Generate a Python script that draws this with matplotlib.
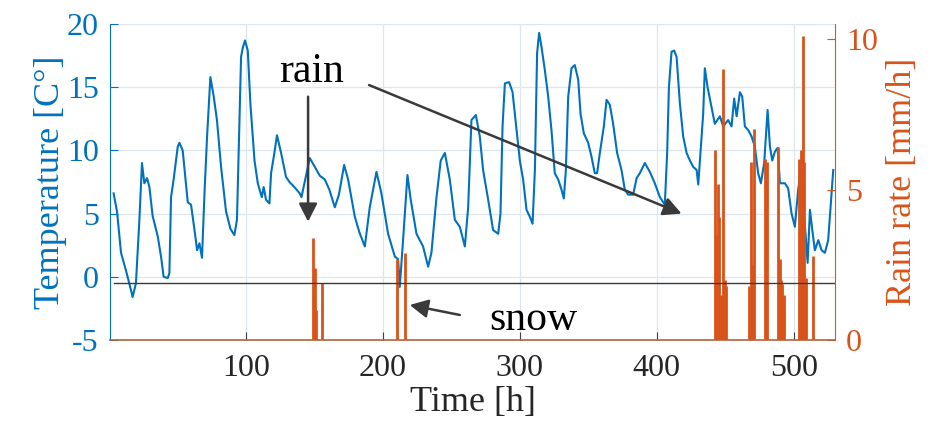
import matplotlib
matplotlib.use("Agg")
import matplotlib.pyplot as plt

plt.rcParams["font.family"] = ["Liberation Serif", "DejaVu Serif"]
plt.rcParams["axes.unicode_minus"] = False

BLUE = "#0072BD"
ORANGE = "#D95319"
DARK = "#3a3a3a"

# temperature (hour, °C)
temp_hours = [3.6, 6.1, 9.0, 12.6, 14.4, 17.5, 19.9, 22.4, 24.3, 26.0, 28.0, 29.7, 32.1,
              35.8, 38.2, 40.1, 43.1, 44.3, 45.5, 47.4, 50.4, 51.6, 54.0, 57.7, 60.1, 63.0,
              64.5, 66.2, 68.1, 69.9, 71.8, 74.2, 76.6, 79.0, 82.0, 85.6, 88.8, 91.7, 93.6,
              95.4, 96.6, 97.8, 99.5, 101.5, 103.4, 106.4, 108.8, 111.7, 113.1, 114.8, 117.3,
              118.5, 120.9, 122.8, 125.8, 129.4, 131.9, 135.5, 139.4, 140.7, 146.7, 150.4,
              154.0, 157.7, 161.0, 165.0, 168.0, 171.8, 174.7, 179.6, 183.0, 186.9, 190.5,
              195.4, 199.0, 203.9, 208.8, 211.2, 212.4, 214.8, 218.0, 220.4, 224.6, 229.4,
              233.1, 235.5, 239.2, 242.3, 245.3, 248.9, 252.6, 256.2, 259.9, 262.3, 264.7,
              267.9, 270.8, 273.2, 276.9, 280.5, 284.2, 285.9, 287.4, 289.1, 292.2, 294.7,
              297.6, 300.0, 302.4, 304.9, 307.3, 309.3, 311.0, 312.6, 314.1, 315.8, 318.2,
              320.7, 323.1, 325.5, 328.0, 330.4, 332.1, 333.6, 335.3, 337.7, 340.1, 342.6,
              344.3, 346.7, 349.9, 352.3, 354.7, 356.4, 358.4, 361.3, 363.3, 365.7, 368.1,
              371.0, 374.2, 376.6, 379.0, 382.7, 385.2, 387.6, 391.2, 394.9, 398.5, 402.2,
              405.8, 407.5, 408.8, 410.7, 412.6, 414.4, 416.8, 419.2, 421.7, 424.1, 426.5,
              429.0, 430.2, 432.1, 433.8, 435.0, 437.0, 439.4, 442.3, 446.0, 448.4, 452.0,
              454.5, 456.4, 458.2, 460.6, 462.3, 464.2, 466.7, 469.1, 471.5, 473.9, 475.9,
              478.3, 480.8, 482.5, 484.2, 486.1, 488.1, 489.8, 493.4, 495.8, 498.3, 500.7,
              503.1, 505.1, 506.8, 508.5, 510.0, 511.7, 513.4, 515.3, 517.8, 520.2, 522.6,
              525.0, 527.5, 528.7]
temp_vals = [6.6, 5.15, 1.9, 0.5, -0.25, -1.6, -0.5, 4.5, 9.0, 7.4, 7.8, 7.1, 4.8,
             3.2, 1.6, 0.0, -0.1, 0.3, 6.3, 7.7, 10.3, 10.6, 10.0, 5.9, 5.7, 3.4,
             2.1, 2.65, 1.5, 6.6, 11.1, 15.8, 14.3, 12.4, 8.7, 5.2, 3.8, 3.3, 4.5,
             12.4, 17.4, 18.1, 18.7, 17.9, 13.7, 9.2, 7.4, 6.3, 7.1, 6.1, 5.8,
             8.2, 9.8, 11.2, 9.8, 7.9, 7.5, 7.1, 6.6, 6.3, 9.4, 8.7,
             8.0, 7.7, 6.9, 5.5, 6.5, 8.85, 7.7, 4.75, 3.5, 2.4, 5.5,
             8.3, 6.6, 3.4, 1.6, 1.4, -0.8, 2.9, 8.05, 6.1, 3.4, 2.4,
             0.8, 1.9, 6.3, 9.2, 9.8, 7.7, 4.5, 3.96, 2.4, 5.5, 12.4,
             12.8, 11.1, 8.45, 6.1, 3.7, 3.4, 5.0, 11.9, 15.3, 15.4, 14.6,
             11.6, 9.2, 7.7, 5.3, 4.75, 4.2, 8.45, 17.7, 19.3, 18.2, 16.4,
             14.25, 11.6, 8.2, 7.7, 6.9, 6.2, 8.45, 14.25, 16.5, 16.75, 15.6,
             12.9, 11.35, 10.6, 9.5, 8.2, 8.2, 9.8, 11.9, 14.0, 13.6, 12.1,
             9.8, 8.45, 6.9, 6.5, 6.5, 7.8, 8.2, 9.0, 8.3, 7.4, 6.3,
             5.7, 9.8, 15.0, 17.8, 17.9, 17.4, 13.7, 11.1, 9.8, 9.2, 8.7,
             8.45, 7.3, 10.3, 12.9, 16.5, 15.0, 13.7, 12.1, 12.7, 11.9, 12.4,
             11.9, 14.1, 12.7, 14.6, 14.25, 11.9, 11.6, 11.1, 10.3, 8.2, 7.4,
             9.0, 13.2, 10.3, 9.2, 9.9, 10.2, 7.4, 7.4, 7.0, 5.0, 3.96,
             6.9, 8.45, 5.5, 3.4, 1.1, 5.3, 3.7, 2.1, 2.9, 2.1, 1.9,
             2.9, 6.6, 8.45]

# rain rate spikes (hour, mm/h)
rain_hours = [149.1, 150.3, 151.5, 156.0, 210.7, 216.0,
              442.7, 443.5, 444.3, 445.5, 446.5, 448.4, 449.5, 450.4,
              467.3, 468.6, 469.5, 470.8, 478.8, 479.6, 480.5,
              488.5, 489.8, 490.6, 491.5, 492.8,
              503.9, 505.1, 506.3, 507.5, 508.8, 514.1]
rain_vals = [3.4, 2.4, 1.0, 1.9, 2.7, 2.9,
             6.3, 3.5, 5.2, 4.1, 1.5, 9.0, 2.0, 1.8,
             1.8, 5.9, 2.5, 7.0, 6.0, 4.0, 5.9,
             6.4, 2.7, 2.0, 1.85, 1.5,
             6.0, 6.3, 10.1, 5.9, 2.05, 2.8]

x_ticks = [100, 200, 300, 400, 500]
temp_ticks = [-5, 0, 5, 10, 15, 20]
rain_ticks = [0, 5, 10]
threshold = -0.47

fig = plt.figure(figsize=(9.43, 4.34), dpi=100)
ax = fig.add_axes([0.1167, 0.2166, 0.7688, 0.7281])
ax2 = ax.twinx()

ax.plot(temp_hours, temp_vals, color=BLUE, lw=1.5)
ax2.vlines(rain_hours, 0, rain_vals, color=ORANGE, lw=2.0)
ax2.plot([3.6, 530], [threshold, threshold], color=DARK, lw=1.0,
         transform=ax.transData)

ax.set_xlim(1, 530)
ax.set_ylim(-5, 20)
ax2.set_ylim(0, 10.5)

tick_font = dict(family="Liberation Serif", size=23)
ax.set_xticks(x_ticks)
ax.set_xticklabels([str(t) for t in x_ticks], fontdict=tick_font)
ax.set_yticks(temp_ticks)
ax.set_yticklabels([str(t) for t in temp_ticks], fontdict=tick_font)
ax2.set_yticks(rain_ticks)
ax2.set_yticklabels([str(t) for t in rain_ticks], fontdict=tick_font)

ax.grid(True, color="#dde5ee", lw=0.9)
ax.set_axisbelow(True)

ax.tick_params(axis="y", direction="in", length=6, color=BLUE,
               labelcolor=BLUE, pad=8)
ax.tick_params(axis="x", direction="in", length=6, color="#404040",
               labelcolor="#262626", pad=10)
ax2.tick_params(axis="y", direction="in", length=6, color=ORANGE,
                labelcolor=ORANGE, pad=8)

for s in ["top", "right"]:
    ax.spines[s].set_visible(False)
for s in ["top", "left"]:
    ax2.spines[s].set_visible(False)
ax.spines["left"].set_color(BLUE)
ax2.spines["right"].set_color(ORANGE)
ax2.spines["bottom"].set_color("#B0643E")
ax2.spines["bottom"].set_linewidth(1.2)
ax.spines["bottom"].set_visible(False)

ax.set_ylabel("Temperature [C°]", color=BLUE, fontsize=26, labelpad=0)
ax2.set_ylabel("Rain rate [mm/h]", color=ORANGE, fontsize=26, labelpad=6)
ax.set_xlabel("Time [h]", color="#262626", fontsize=26, labelpad=2)

arrow = dict(arrowstyle="-|>,head_length=0.55,head_width=0.28",
             mutation_scale=20, color=DARK, lw=1.8, shrinkA=0, shrinkB=0)
ax.text(148, 15.4, "rain", fontsize=30, ha="center", va="baseline")
ax.annotate("", xy=(145.5, 4.36), xytext=(145.5, 14.25), arrowprops=arrow)
ax.annotate("", xy=(418, 5.0), xytext=(190, 15.17), arrowprops=arrow)
ax.text(309.5, -4.2, "snow", fontsize=30, ha="center", va="baseline")
ax.annotate("", xy=(219.7, -2.23), xytext=(256.2, -3.02), arrowprops=arrow)

fig.savefig("out.png", dpi=100)
